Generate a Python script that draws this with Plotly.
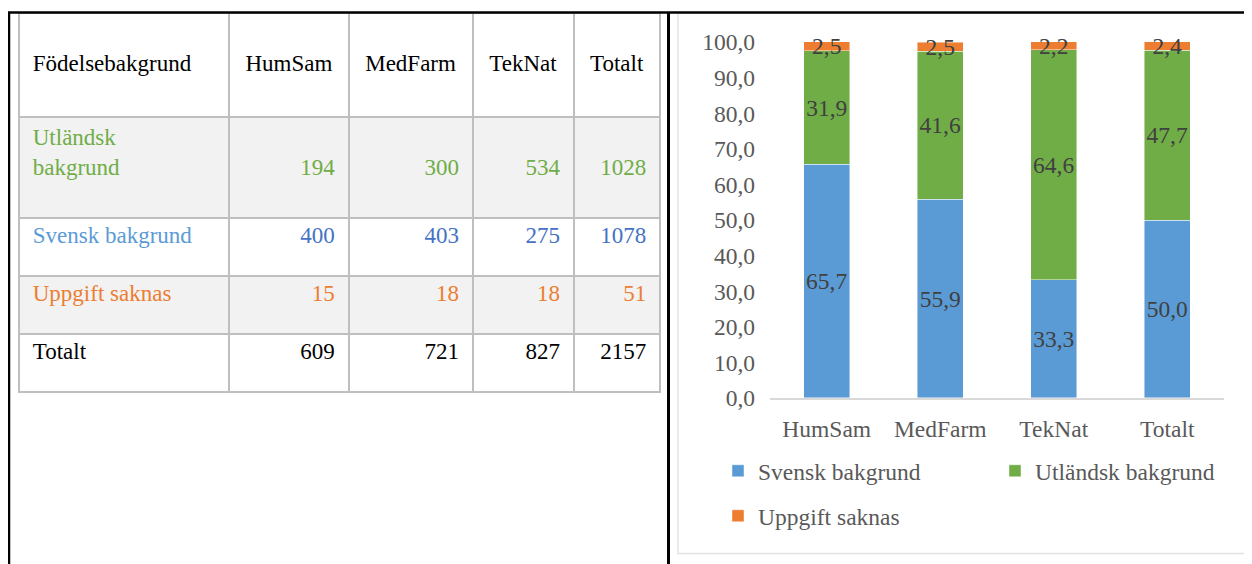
import plotly.graph_objects as go

# ---------------- data ----------------
categories = ["HumSam", "MedFarm", "TekNat", "Totalt"]
series_names = ["Svensk bakgrund", "Utländsk bakgrund", "Uppgift saknas"]
svensk_pct = [65.7, 55.9, 33.3, 50.0]
utlandsk_pct = [31.9, 41.6, 64.6, 47.7]
saknas_pct = [2.5, 2.5, 2.2, 2.4]

table_header = ["Födelsebakgrund", "HumSam", "MedFarm", "TekNat", "Totalt"]
row_labels = ["Utländsk bakgrund", "Svensk bakgrund", "Uppgift saknas", "Totalt"]
utlandsk_n = [194, 300, 534, 1028]
svensk_n = [400, 403, 275, 1078]
saknas_n = [15, 18, 18, 51]
totalt_n = [609, 721, 827, 2157]

# ---------------- style ----------------
OFF = 8  # page body margin
W, H = 1252 - OFF, 564 - OFF
FONT = "Liberation Serif"
BLUE, GREEN, ORANGE = "#5b9bd5", "#70ad47", "#ed7d31"
DARKBLUE = "#4472c4"
GRID = "#bfbfbf"
NB = "\u00a0"

def px(x):
    return (x - OFF) / W

def py(y):
    return 1 - (y - OFF) / H

fig = go.Figure()

# ---------------- table ----------------
rows_n = [utlandsk_n, svensk_n, saknas_n, totalt_n]
label_cells = []
for i, lab in enumerate(row_labels):
    txt = lab.replace(" ", "<br>" + NB) if i == 0 else lab
    label_cells.append(NB + txt)
num_cols = []
for c in range(len(categories)):
    col = []
    for i, r in enumerate(rows_n):
        if i == 0:
            col.append(NB + "<br>" + str(r[c]) + NB + "<br>" + NB)
        else:
            col.append(str(r[c]) + NB)
    num_cols.append(col)

header_cells = [NB + "<br>" + NB + table_header[0]] + \
               [NB + "<br>" + h for h in table_header[1:]]

row_fill = ["#f2f2f2", "#ffffff", "#f2f2f2", "#ffffff"]
label_colors = [GREEN, BLUE, ORANGE, "#000000"]
num_colors = [GREEN, DARKBLUE, ORANGE, "#000000"]

fig.add_trace(go.Table(
    domain=dict(x=[px(19), px(660)], y=[0, py(13)]),
    columnwidth=[210, 119, 124, 101, 86],
    header=dict(
        values=header_cells,
        height=104,
        align=["left", "center", "center", "center", "center"],
        fill=dict(color="#ffffff"),
        line=dict(color=GRID, width=2),
        font=dict(family=FONT, size=23, color="#000000"),
    ),
    cells=dict(
        values=[label_cells] + num_cols,
        height=58,
        align=["left", "right", "right", "right", "right"],
        fill=dict(color=[row_fill] * 5),
        line=dict(color=GRID, width=2),
        font=dict(family=FONT, size=23,
                  color=[label_colors] + [num_colors] * 4),
    ),
))

# ---------------- stacked bars ----------------
for name, vals, color, lg in zip(series_names,
                                 [svensk_pct, utlandsk_pct, saknas_pct],
                                 [BLUE, GREEN, ORANGE],
                                 ["legend", "legend", "legend2"]):
    fig.add_trace(go.Bar(
        x=categories, y=vals, name=name,
        marker=dict(color=color, line=dict(color="rgba(255,255,255,0.6)", width=0.75)),
        texttemplate="%{y:.1f}",
        textposition="inside",
        insidetextanchor="middle",
        textangle=0,
        constraintext="none",
        textfont=dict(family=FONT, size=23.5, color="#404040"),
        cliponaxis=False,
        legend=lg,
        hoverinfo="skip",
    ))

fig.update_layout(
    width=W, height=H,
    margin=dict(l=0, r=0, t=0, b=0, pad=0, autoexpand=False),
    paper_bgcolor="white", plot_bgcolor="white",
    barmode="stack", bargap=0.595,
    separators=", ",
    showlegend=True,
    xaxis=dict(
        domain=[px(770), px(1224)],
        showline=True, linecolor="#d9d9d9", linewidth=2,
        ticks="", showgrid=False, zeroline=False,
        tickfont=dict(family=FONT, size=23.5, color="#595959"),
        ticklabelstandoff=9,
    ),
    yaxis=dict(
        domain=[py(398), py(38.7)],
        range=[0, 101], dtick=10, tickformat=".1f",
        showline=False, showgrid=False, zeroline=False, ticks="",
        tickfont=dict(family=FONT, size=23.5, color="#595959"),
        ticklabelstandoff=14,
    ),
    legend=dict(
        orientation="h", x=px(718), y=py(471), xanchor="left", yanchor="middle",
        entrywidth=232, entrywidthmode="pixels",
        font=dict(family=FONT, size=23.5, color="#595959"),
        bgcolor="rgba(0,0,0,0)", traceorder="normal",
    ),
    legend2=dict(
        orientation="h", x=px(718), y=py(516), xanchor="left", yanchor="middle",
        font=dict(family=FONT, size=23.5, color="#595959"),
        bgcolor="rgba(0,0,0,0)",
    ),
    shapes=[
        # chart frame
        dict(type="rect", xref="paper", yref="paper",
             x0=px(678), x1=px(1251), y0=py(553.5), y1=py(13),
             line=dict(color="#e3e3e3", width=1.5), layer="below"),
        # outer document table lines
        dict(type="line", xref="paper", yref="paper",
             x0=px(8), x1=px(1251), y0=py(12.5), y1=py(12.5),
             line=dict(color="black", width=2.5)),
        dict(type="line", xref="paper", yref="paper",
             x0=px(9), x1=px(9), y0=py(12), y1=0,
             line=dict(color="black", width=2.5)),
        dict(type="line", xref="paper", yref="paper",
             x0=px(668.5), x1=px(668.5), y0=py(12), y1=0,
             line=dict(color="black", width=3)),
    ],
)

fig.write_html("out.html")
